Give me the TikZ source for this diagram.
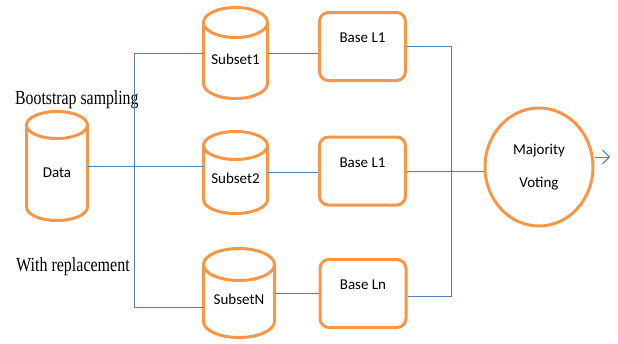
\documentclass[tikz,border=0pt]{standalone}
\usepackage{fontspec}
\setmainfont{Liberation Serif}
\newfontfamily\labelfont{Carlito}
\usetikzlibrary{calc,shapes.geometric,arrows.meta,positioning}
\definecolor{boxorange}{HTML}{F79646}
\definecolor{linkblue}{HTML}{4F81BD}

% outline of a data store round node #1, cap radius #2
\newcommand{\drum}[2]{%
  \draw[drumline] let \p1=($(#1.east)-(#1.west)$) in
    ([yshift=-#2]#1.north west) -- ([yshift=#2]#1.south west)
    arc[start angle=180, end angle=360, x radius=0.5*\x1, y radius=#2]
    -- ([yshift=-#2]#1.north east)
    arc[start angle=0, end angle=360, x radius=0.5*\x1, y radius=#2];
}

\begin{document}
\begin{tikzpicture}[x=1pt, y=-1pt, >={Straight Barb[length=7pt,width=14pt]}]
  \tikzstyle{drumline}=[draw=boxorange, line width=3pt, line join=round]
  \tikzstyle{store}=[rectangle, outer sep=0pt, inner sep=0pt, text height=22pt, text depth=0pt, font=\labelfont\fontsize{15}{18}\selectfont]
  \tikzstyle{learner}=[draw=boxorange, line width=3pt, rectangle, rounded corners=9pt, minimum width=86pt, minimum height=68pt, text height=11pt, text depth=19pt, font=\labelfont\fontsize{15}{18}\selectfont]
  \tikzstyle{link}=[draw=linkblue, line width=0.9pt]
  \tikzstyle{note}=[anchor=base west, inner sep=0pt, font=\fontsize{20}{24}\selectfont]

  \useasboundingbox (0,0) rectangle (618,343);

  \node[store, minimum width=61pt, minimum height=109pt] (D) at (57,166) {Data};
  \node[store, minimum width=64pt, minimum height=91pt] (S1) at (235.5,53) {Subset1};
  \node[store, minimum width=64pt, minimum height=82pt] (S2) at (235.5,172.5) {Subset2};
  \node[store, minimum width=71pt, minimum height=89pt] (SN) at (239,293) {SubsetN};
  \drum{D}{13.5pt}
  \drum{S1}{15pt}
  \drum{S2}{14pt}
  \drum{SN}{16pt}

  \node[learner] (B1) at (362.5,46.5) {Base L1};
  \node[learner] (B2) at (362.5,171) {Base L1};
  \node[learner] (BN) at (363,293.5) {Base Ln};

  \node[draw=boxorange, line width=3pt, ellipse, minimum width=108pt, minimum height=118pt, align=center, font=\labelfont\fontsize{15}{33}\selectfont] (MV) at (539,167) {Majority\\Voting};

  \node[note] (boot) at (15,104) {\scalebox{0.79}[1]{Bootstrap sampling}};
  \node[note] (repl) at (16,271) {\scalebox{0.8}[1]{With replacement}};

  \coordinate (busL) at (134,307);
  \coordinate (busR) at (451,296);
  \coordinate (out) at (610,157);

  % sampling
  \draw[link] (D.east) -- (D.east -| S2.west);
  \draw[link] (S1.west) -| (busL) -- (busL -| SN.west);
  % learners
  \draw[link] (S1.east) -- (S1.east -| B1.west);
  \draw[link] (S2.east) -- (S2.east -| B2.west);
  \draw[link] (SN.east) -- (SN.east -| BN.west);
  % voting
  \draw[link] (B1.east) -| (busR) -- (busR -| BN.east);
  \draw[link] (B2.east) -- (B2.east -| MV.west);
  \draw[link, ->] (MV.east |- out) -- (out);
\end{tikzpicture}
\end{document}
